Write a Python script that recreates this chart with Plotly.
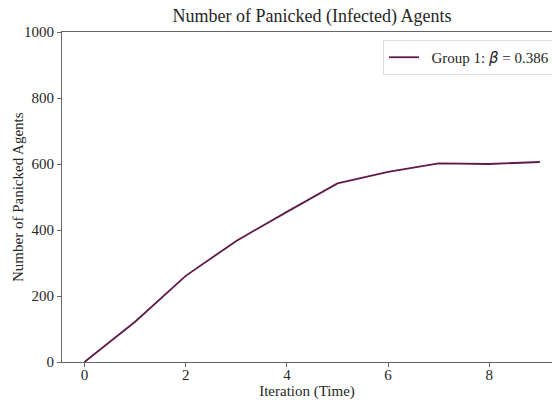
import plotly.graph_objects as go

# Panicked agents per iteration
iterations = [0, 1, 2, 3, 4, 5, 6, 7, 8, 9]
panicked = [0, 122, 261, 367, 455, 541, 576, 602, 600, 606]
series_name = '\u2002Group 1: <span style="font-family:DejaVu Sans"><i>β</i></span> = 0.386'

x_ticks = [0, 2, 4, 6, 8]
y_ticks = [0, 200, 400, 600, 800, 1000]

serif = "Liberation Serif, Times New Roman, serif"
spine = "#666666"

fig = go.Figure()
fig.add_trace(go.Scatter(
    x=iterations, y=panicked, mode="lines", name=series_name,
    line=dict(color="#5e1a4a", width=1.8),
))

fig.update_layout(
    width=552, height=404,
    margin=dict(l=62, r=0, t=32, b=42, autoexpand=False),
    paper_bgcolor="white", plot_bgcolor="white",
    font=dict(family=serif, size=15, color="#262626"),
    title=dict(text="Number of Panicked (Infected) Agents", x=312 / 552, xanchor="center",
               y=1 - 16 / 404, yanchor="middle", font=dict(size=18, family=serif, color="#262626")),
    showlegend=True,
    legend=dict(x=(383 - 62) / 490, xanchor="left", y=1 - 8 / 330, yanchor="top",
                bordercolor="#dddddd", borderwidth=1, bgcolor="rgba(255,255,255,0.8)",
                font=dict(size=15, family=serif, color="#262626")),
)
fig.add_annotation(
    text="Number of Panicked Agents", textangle=-90,
    xref="paper", yref="paper", x=-(62 - 18) / 490, y=0.5,
    xanchor="center", yanchor="middle", showarrow=False,
    font=dict(size=15, family=serif, color="#262626"),
)
fig.update_xaxes(
    range=[-0.445, 9.24], tickvals=x_ticks, showgrid=False, zeroline=False,
    showline=True, linecolor=spine, linewidth=1, mirror=True,
    ticks="outside", ticklen=4, tickcolor=spine, ticklabelstandoff=-5,
    title=dict(text="Iteration (Time)", standoff=0, font=dict(size=15)),
    tickfont=dict(size=15),
)
fig.update_yaxes(
    range=[0, 1000], tickvals=y_ticks, showgrid=False, zeroline=False,
    showline=True, linecolor=spine, linewidth=1, mirror=True,
    ticks="outside", ticklen=4, tickcolor=spine,
    tickfont=dict(size=15),
)

fig.write_html("out.html")
